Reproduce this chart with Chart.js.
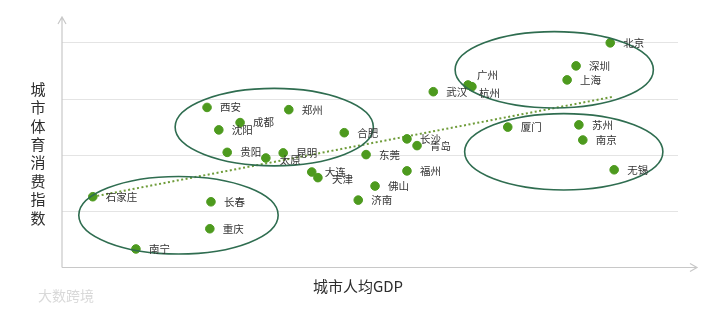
<!DOCTYPE html>
<html>
<head>
<meta charset="utf-8">
<script src="https://cdn.jsdelivr.net/npm/chart.js@4.4.1/dist/chart.umd.min.js"></script>
<style>
html,body{margin:0;padding:0;background:#fff;}
#wrap{width:720px;height:310px;position:relative;}
</style>
</head>
<body>
<div id="wrap"><canvas id="c" width="720" height="310"></canvas></div>
<script>
// ---- data (x = per-capita GDP index, y = sports consumption index) ----
const cities = ['北京','深圳','上海','广州','杭州','武汉','厦门','苏州','南京','无锡',
  '合肥','长沙','青岛','东莞','福州','佛山','济南','大连','天津',
  '西安','郑州','成都','沈阳','贵阳','昆明','太原',
  '石家庄','长春','重庆','南宁'];
const gdpValues = [9.79,9.18,9.02,7.25,7.32,6.63,7.96,9.23,9.30,9.86,
  5.04,6.16,6.34,5.43,6.16,5.59,5.29,4.46,4.57,
  2.59,4.05,3.18,2.80,2.95,3.95,3.64,
  0.55,2.66,2.64,1.32];
const sportValues = [4.00,3.59,3.34,3.25,3.22,3.13,2.50,2.54,2.27,1.74,
  2.40,2.29,2.17,2.01,1.72,1.45,1.20,1.70,1.60,
  2.85,2.81,2.58,2.45,2.05,2.04,1.95,
  1.26,1.17,0.69,0.33];
// trend line endpoints
const trendX = [0.55, 9.84];
const trendY = [1.26, 3.04];
// group ellipses: centre x, centre y, radius x, radius y (data units)
const groupCx = [8.79, 3.79, 2.08, 8.96];
const groupCy = [3.52, 2.50, 0.93, 2.06];
const groupRx = [1.77, 1.77, 1.78, 1.77];
const groupRy = [0.68, 0.69, 0.69, 0.68];
const yTickStep = 1;
const xTitle = '城市人均GDP';
const yTitle = '城市体育消费指数';
const watermark = '大数跨境';

// ---- label placement tweaks (style, not data) ----
const labelShift = {'广州':[9,-10],'杭州':[7,6],'太原':[14,2],'成都':[13,-1],'长沙':[13,0],'天津':[14,1]};

const FONT = '"Noto Sans CJK SC","Noto Sans",sans-serif';

const pointsData = cities.map((n,i)=>({x:gdpValues[i], y:sportValues[i], name:n}));
const trendData = trendX.map((x,i)=>({x:x, y:trendY[i]}));

const decor = {
  id:'decor',
  beforeDatasetsDraw(chart){
    const {ctx, chartArea:a} = chart;
    ctx.save();
    ctx.strokeStyle = '#c8c8c8';
    ctx.lineWidth = 1.2;
    // y axis with arrow
    ctx.beginPath();
    ctx.moveTo(a.left, a.bottom); ctx.lineTo(a.left, a.top);
    ctx.moveTo(a.left-4, a.top+7); ctx.lineTo(a.left, a.top); ctx.lineTo(a.left+4, a.top+7);
    // x axis with arrow
    const xe = a.right + 19;
    ctx.moveTo(a.left, a.bottom); ctx.lineTo(xe, a.bottom);
    ctx.moveTo(xe-7, a.bottom-4); ctx.lineTo(xe, a.bottom); ctx.lineTo(xe-7, a.bottom+4);
    ctx.stroke();
    // titles
    ctx.fillStyle = '#2e2e2e';
    ctx.font = '15px ' + FONT;
    ctx.textAlign = 'center';
    ctx.textBaseline = 'middle';
    ctx.fillText(xTitle, (a.left + a.right)/2 - 12, a.bottom + 19);
    [...yTitle].forEach((ch,i)=>ctx.fillText(ch, 38, 89 + i*18.4));
    // watermark
    ctx.fillStyle = '#d9d9d9';
    ctx.font = '14px ' + FONT;
    ctx.textAlign = 'left';
    ctx.fillText(watermark, 38, 296);
    ctx.restore();
  },
  afterDatasetsDraw(chart){
    const {ctx} = chart;
    const xs = chart.scales.x, ys = chart.scales.y;
    ctx.save();
    // ellipses
    ctx.strokeStyle = '#2f6d50';
    ctx.lineWidth = 1.6;
    groupCx.forEach((cx,i)=>{
      const px = xs.getPixelForValue(cx), py = ys.getPixelForValue(groupCy[i]);
      const rx = xs.getPixelForValue(cx + groupRx[i]) - px;
      const ry = py - ys.getPixelForValue(groupCy[i] + groupRy[i]);
      ctx.beginPath();
      ctx.ellipse(px, py, rx, ry, 0, 0, Math.PI*2);
      ctx.stroke();
    });
    // labels
    ctx.fillStyle = '#333';
    ctx.font = '10.5px ' + FONT;
    ctx.textAlign = 'left';
    ctx.textBaseline = 'middle';
    const meta = chart.getDatasetMeta(0);
    meta.data.forEach((el,i)=>{
      const n = cities[i];
      const s = labelShift[n] || [13,0];
      ctx.fillText(n, el.x + s[0], el.y + s[1]);
    });
    ctx.restore();
  }
};

new Chart(document.getElementById('c'), {
  type:'scatter',
  data:{datasets:[
    {label:'城市', data:pointsData, backgroundColor:'#4d9a1e', borderColor:'#4d9a1e', pointRadius:4.3, pointHoverRadius:4.3, order:1},
    {label:'趋势', type:'line', data:trendData, showLine:true, borderColor:'#6f9c3a', borderWidth:2, borderDash:[2,2.5], pointRadius:0, fill:false, order:2}
  ]},
  options:{
    responsive:false, animation:false,
    layout:{padding:{left:62, right:42, top:17, bottom:42.5}},
    plugins:{legend:{display:false}, tooltip:{enabled:false}},
    scales:{
      x:{type:'linear', min:0, max:11, ticks:{display:false}, grid:{display:false, drawTicks:false}, border:{display:false}},
      y:{type:'linear', min:0, max:4.46, ticks:{display:false, stepSize:yTickStep, includeBounds:false},
         grid:{drawTicks:false, color:(c)=> (c.tick && c.tick.value===0) ? 'rgba(0,0,0,0)' : '#e4e4e4', lineWidth:1},
         border:{display:false}}
    }
  },
  plugins:[decor]
});
</script>
</body>
</html>
